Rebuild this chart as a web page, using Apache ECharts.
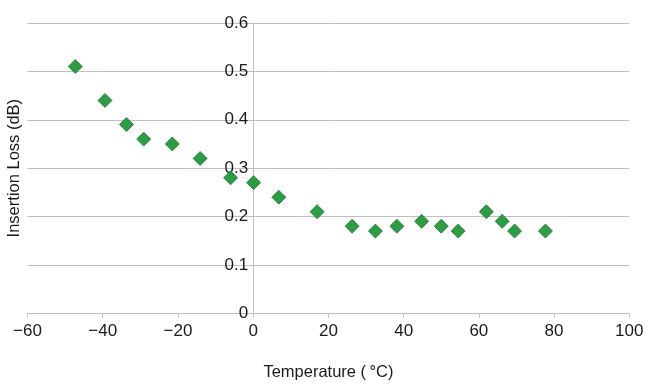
<!DOCTYPE html>
<html>
<head>
<meta charset="utf-8">
<script src="https://cdn.jsdelivr.net/npm/echarts@6/dist/echarts.min.js"></script>
<style>html,body{margin:0;padding:0;background:#fff;}#c{width:650px;height:385px;}</style>
</head>
<body>
<div id="c"></div>
<script>
var temperature = [-47.3, -39.4, -33.7, -29.1, -21.5, -14.1, -6.0, 0.1, 6.8, 17.0, 26.3, 32.5, 38.2, 44.8, 50.0, 54.5, 62.0, 66.2, 69.5, 77.7];
var insertionLoss = [0.51, 0.44, 0.39, 0.36, 0.35, 0.32, 0.28, 0.27, 0.24, 0.21, 0.18, 0.17, 0.18, 0.19, 0.18, 0.17, 0.21, 0.19, 0.17, 0.17];
var xTicks = [-60, -40, -20, 0, 20, 40, 60, 80, 100];
var yTicks = [0, 0.1, 0.2, 0.3, 0.4, 0.5, 0.6];

var points = temperature.map(function (t, i) { return [t, insertionLoss[i]]; });
var font = 'Liberation Sans';
var gridLeft = 27.5, gridRight = 20.7;
var plotWidth = 650 - gridLeft - gridRight;
var xMin = xTicks[0], xMax = xTicks[xTicks.length - 1];
// shift the y axis (line, labels, name) so it sits at x = 0
var yAxisOffset = -plotWidth * (0 - xMin) / (xMax - xMin);

var chart = echarts.init(document.getElementById('c'));
chart.setOption({
  animation: false,
  grid: { left: gridLeft, right: gridRight, top: 23, bottom: 71.7, containLabel: false, outerBoundsMode: 'none' },
  xAxis: {
    type: 'value', min: xMin, max: xMax, interval: 20,
    name: 'Temperature (\u2009°C)', nameLocation: 'middle', nameGap: 51,
    nameTextStyle: { fontFamily: font, fontSize: 16.5, color: '#1a1a1a' },
    axisLine: { onZero: false, lineStyle: { color: '#bfbfbf', width: 1 } },
    axisTick: { show: true, length: 4, lineStyle: { color: '#bfbfbf' } },
    axisLabel: { fontFamily: font, fontSize: 17, color: '#1a1a1a', margin: 10,
      formatter: function (v) { return String(v).replace('-', '\u2212'); } },
    splitLine: { show: false }
  },
  yAxis: {
    type: 'value', min: yTicks[0], max: yTicks[yTicks.length - 1], interval: 0.1,
    offset: yAxisOffset,
    name: 'Insertion Loss (dB)', nameLocation: 'middle', nameGap: 230,
    nameTextStyle: { fontFamily: font, fontSize: 16.5, color: '#1a1a1a' },
    axisLine: { show: true, onZero: false, lineStyle: { color: '#bfbfbf', width: 1 } },
    axisTick: { show: false },
    axisLabel: { fontFamily: font, fontSize: 17, color: '#1a1a1a', margin: 5,
      formatter: function (v) { return String(Math.round(v * 10) / 10); } },
    splitLine: { show: true, lineStyle: { color: '#bfbfbf', width: 1 } }
  },
  series: [{
    type: 'scatter',
    data: points,
    symbol: 'diamond',
    symbolSize: 14,
    itemStyle: { color: '#2e9b45', borderColor: '#217a33', borderWidth: 0.8, opacity: 1 }
  }]
});
</script>
</body>
</html>
